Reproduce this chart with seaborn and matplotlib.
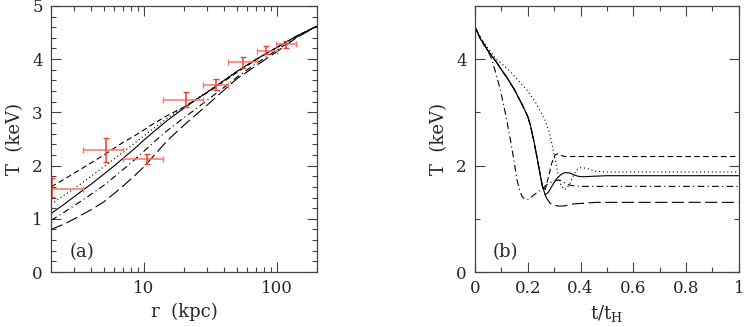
import matplotlib
matplotlib.use("Agg")
import matplotlib.pyplot as plt
import numpy as np
import pandas as pd
import seaborn as sns
from matplotlib.ticker import MultipleLocator, FixedLocator, LogLocator, NullFormatter

# ---- panel (a): T(r), model curves ----
r_model = [2, 2.5, 3, 4, 5, 6, 7, 8.5, 10, 12, 15, 20, 25, 30, 40, 50, 70, 100, 140, 200]
Ta_dashed = [1.60, 1.74, 1.86, 2.05, 2.20, 2.33, 2.44, 2.56, 2.67, 2.80, 2.94, 3.10, 3.25, 3.37,
             3.58, 3.75, 3.99, 4.22, 4.43, 4.62]
Ta_dotted = [1.27, 1.44, 1.57, 1.80, 1.98, 2.13, 2.26, 2.42, 2.56, 2.71, 2.89, 3.10, 3.26, 3.39,
             3.60, 3.77, 4.00, 4.22, 4.43, 4.62]
Ta_solid = [1.10, 1.27, 1.42, 1.65, 1.84, 2.00, 2.14, 2.32, 2.48, 2.65, 2.85, 3.08, 3.25, 3.38,
            3.60, 3.77, 4.00, 4.22, 4.43, 4.62]
Ta_dashdot = [0.97, 1.12, 1.25, 1.46, 1.63, 1.79, 1.93, 2.11, 2.27, 2.45, 2.66, 2.90, 3.08, 3.23,
              3.47, 3.66, 3.92, 4.17, 4.41, 4.62]
Ta_longdash = [0.80, 0.90, 1.00, 1.17, 1.32, 1.48, 1.62, 1.81, 1.98, 2.20, 2.47, 2.76, 2.97, 3.14,
               3.42, 3.63, 3.88, 4.14, 4.40, 4.62]

# observed points: centre, x-range, y-range
r_obs = [2.05, 5.15, 10.5, 20.7, 34.8, 55.1, 83.4, 117]
r_lo = [1.2, 3.45, 6.96, 14.0, 28.0, 42.6, 70.5, 99]
r_hi = [3.45, 6.96, 14.0, 28.0, 42.6, 70.5, 100, 140]
T_obs = [1.56, 2.30, 2.12, 3.235, 3.52, 3.94, 4.16, 4.28]
T_lo = [1.41, 2.06, 2.03, 3.11, 3.42, 3.84, 4.09, 4.21]
T_hi = [1.77, 2.52, 2.22, 3.38, 3.63, 4.04, 4.24, 4.34]

# ---- panel (b): T(t) ----
t_solid = [0, .02, .05, .08, .1, .12, .15, .18, .2, .21, .222, .235, .245, .255, .266, .278,
           .291, .31, .325, .341, .36, .373, .39, .41, .45, .5, 1]
Tb_solid = [4.6, 4.38, 4.15, 3.95, 3.80, 3.66, 3.42, 3.13, 2.92, 2.75, 2.48, 2.15, 1.88, 1.62,
            1.45, 1.50, 1.61, 1.76, 1.83, 1.87, 1.86, 1.83, 1.80, 1.79, 1.80, 1.81, 1.81]
t_dashed = [0, .02, .05, .08, .1, .12, .15, .18, .2, .21, .222, .235, .245, .255, .266, .279,
            .291, .303, .312, .322, .34, .36, 1]
Tb_dashed = [4.6, 4.38, 4.15, 3.95, 3.80, 3.66, 3.42, 3.13, 2.92, 2.75, 2.48, 2.15, 1.88, 1.62,
             1.55, 1.80, 2.05, 2.20, 2.22, 2.20, 2.17, 2.17, 2.17]
t_longdash = [0, .02, .05, .08, .1, .12, .15, .18, .2, .21, .222, .235, .245, .255, .266, .272,
              .285, .297, .315, .335, .373, .46, 1]
Tb_longdash = [4.6, 4.38, 4.15, 3.95, 3.80, 3.66, 3.42, 3.13, 2.92, 2.75, 2.48, 2.15, 1.88, 1.62,
               1.45, 1.38, 1.29, 1.26, 1.24, 1.24, 1.28, 1.31, 1.31]
t_dotted = [0, .02, .05, .08, .1, .13, .16, .2, .23, .25, .265, .28, .291, .303, .322, .337,
            .348, .36, .372, .385, .4, .423, .46, .5, 1]
Tb_dotted = [4.6, 4.4, 4.2, 4.0, 3.92, 3.78, 3.62, 3.40, 3.18, 3.0, 2.85, 2.65, 2.42, 2.11,
             1.67, 1.55, 1.57, 1.67, 1.80, 1.92, 1.96, 1.95, 1.89, 1.88, 1.88]
t_dashdot = [0, .02, .04, .059, .075, .096, .115, .134, .148, .159, .17, .178, .19, .197, .21,
             .22, .241, .26, .279, .3, .316, .33, .341, .36, .4, 1]
Tb_dashdot = [4.6, 4.42, 4.22, 4.05, 3.80, 3.42, 2.98, 2.48, 2.08, 1.73, 1.52, 1.42, 1.37, 1.36,
              1.39, 1.44, 1.51, 1.59, 1.67, 1.71, 1.73, 1.71, 1.67, 1.63, 1.61, 1.61]

dashes = {
    "solid": None,
    "dashed": (5, 3),
    "dotted": (1, 2.5),
    "dashdot": (6, 3, 1, 3),
    "longdash": (11, 4),
}

sns.set_style("ticks")
plt.rcParams["font.family"] = ["DejaVu Serif"]
plt.rcParams["mathtext.fontset"] = "dejavuserif"

fig = plt.figure(figsize=(7.47, 3.27), dpi=100)
ax1 = fig.add_axes([0.0683, 0.168, 0.356, 0.814])
ax2 = fig.add_axes([0.636, 0.168, 0.353, 0.814])


def draw_line(ax, x, y, name, lw=0.8):
    d = pd.DataFrame({"x": x, "y": y})
    sns.lineplot(data=d, x="x", y="y", ax=ax, color="black", lw=lw,
                 estimator=None, sort=False)
    if dashes[name] is not None:
        ax.lines[-1].set_dashes(dashes[name])


for name, vals in [("dashed", Ta_dashed), ("dotted", Ta_dotted), ("solid", Ta_solid),
                   ("dashdot", Ta_dashdot), ("longdash", Ta_longdash)]:
    draw_line(ax1, r_model, vals, name)

r_obs = np.array(r_obs)
T_obs = np.array(T_obs)
xerr = [r_obs - np.array(r_lo), np.array(r_hi) - r_obs]
yerr = [T_obs - np.array(T_lo), np.array(T_hi) - T_obs]
ax1.errorbar(r_obs, T_obs, xerr=xerr, fmt="none", ecolor="#ff7565", elinewidth=1.1,
             capsize=2.5, capthick=1.0)
ax1.errorbar(r_obs, T_obs, yerr=yerr, fmt="none", ecolor="#f0402f", elinewidth=1.1,
             capsize=2.5, capthick=1.0)

ax1.set_xscale("log")
ax1.set_xlim(2, 200)
ax1.set_ylim(0, 5)
ax1.xaxis.set_major_locator(FixedLocator([10, 100]))
ax1.set_xticklabels(["10", "100"])
ax1.xaxis.set_minor_locator(LogLocator(base=10, subs=np.arange(2, 10)))
ax1.xaxis.set_minor_formatter(NullFormatter())
ax1.yaxis.set_major_locator(MultipleLocator(1))
ax1.yaxis.set_minor_locator(MultipleLocator(0.2))
ax1.set_xlabel("r  (kpc)", fontsize=13, labelpad=4)
ax1.set_ylabel("T  (keV)", fontsize=13, labelpad=6)
ax1.text(0.07, 0.055, "(a)", transform=ax1.transAxes, fontsize=13)

for name, x, vals in [("dashed", t_dashed, Tb_dashed), ("longdash", t_longdash, Tb_longdash),
                      ("dotted", t_dotted, Tb_dotted), ("dashdot", t_dashdot, Tb_dashdot),
                      ("solid", t_solid, Tb_solid)]:
    draw_line(ax2, x, vals, name)

ax2.set_xlim(0, 1)
ax2.set_ylim(0, 5)
ax2.xaxis.set_minor_locator(MultipleLocator(0.1))
ax2.set_xticks([0, 0.2, 0.4, 0.6, 0.8, 1.0])
ax2.set_xticklabels(["0", "0.2", "0.4", "0.6", "0.8", "1"])
ax2.yaxis.set_major_locator(MultipleLocator(2))
ax2.yaxis.set_minor_locator(MultipleLocator(1))
ax2.set_xlabel(r"t/t$_\mathrm{H}$", fontsize=13, labelpad=4)
ax2.set_ylabel("T  (keV)", fontsize=13, labelpad=6)
ax2.text(0.065, 0.055, "(b)", transform=ax2.transAxes, fontsize=13)

for ax in (ax1, ax2):
    ax.tick_params(which="both", direction="in", top=True, right=True, labelsize=12,
                   color="#444444", pad=6)
    ax.tick_params(which="major", length=7, width=0.8)
    ax.tick_params(which="minor", length=3.5, width=0.8)
    for s in ax.spines.values():
        s.set_linewidth(0.9)
        s.set_color("#444444")

fig.savefig("out.png", dpi=100)
